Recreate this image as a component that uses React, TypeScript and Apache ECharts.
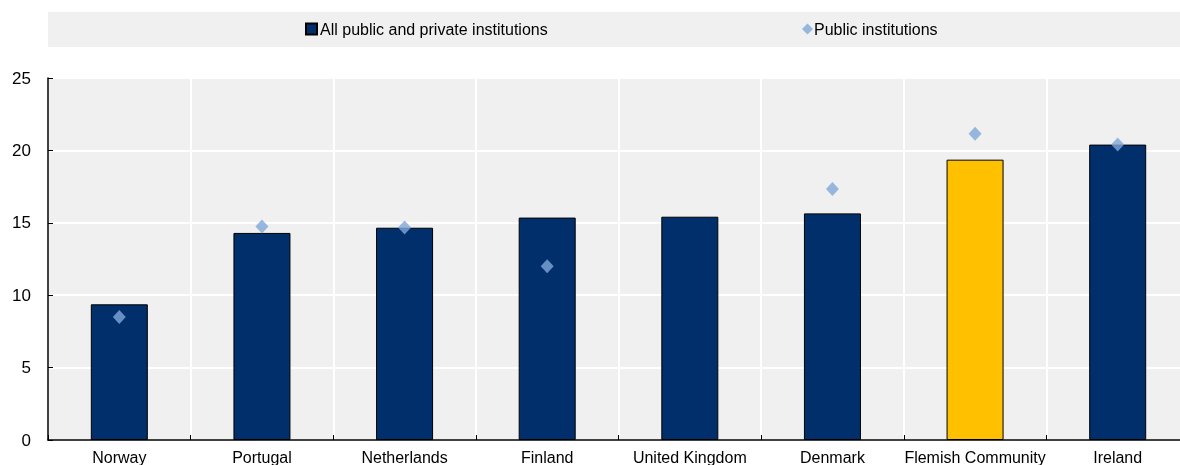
import React, { useEffect, useRef } from "react";
import * as echarts from "echarts";

const categories = [
  "Norway",
  "Portugal",
  "Netherlands",
  "Finland",
  "United Kingdom",
  "Denmark",
  "Flemish Community",
  "Ireland",
];
const allInstitutions = [9.37, 14.3, 14.66, 15.36, 15.42, 15.65, 19.36, 20.4];
const publicInstitutions: (number | null)[] = [8.5, 14.74, 14.68, 12.0, null, 17.33, 21.15, 20.4];
const highlightCategory = "Flemish Community";
const yTicks = { min: 0, max: 25, interval: 5 };

const FONT = "'Liberation Sans', Arial, sans-serif";
const NAVY = "#002F6C";
const GOLD = "#FFC000";
const LIGHT = "#7FA7D9";
const BG = "#F0F0F0";

export default function App() {
  const ref = useRef<HTMLDivElement>(null);
  useEffect(() => {
    if (!ref.current) return;
    const chart = echarts.init(ref.current, undefined, { renderer: "svg" });
    chart.setOption({
      animation: false,
      textStyle: { fontFamily: FONT, color: "#000" },
      graphic: [
        {
          type: "rect",
          left: 48,
          top: 12,
          shape: { width: 1150, height: 35 },
          style: { fill: BG },
          z: -10,
          silent: true,
        },
      ],
      legend: [
        {
          data: [{ name: "All public and private institutions", icon: "rect" }],
          left: 300,
          top: 16,
          itemWidth: 11,
          itemHeight: 11,
          textStyle: { fontFamily: FONT, fontSize: 16, color: "#000", padding: [0, 0, 0, -2] },
        },
        {
          data: [{ name: "Public institutions", icon: "diamond" }],
          left: 797,
          top: 16,
          itemWidth: 11,
          itemHeight: 11,
          textStyle: { fontFamily: FONT, fontSize: 16, color: "#000", padding: [0, 0, 0, -4] },
        },
      ],
      grid: {
        left: 48,
        top: 78,
        width: 1141,
        height: 362,
        show: true,
        backgroundColor: BG,
        borderWidth: 0,
        containLabel: false,
      },
      xAxis: {
        type: "category",
        data: categories,
        axisLine: { show: true, lineStyle: { color: "#000", width: 1.5 } },
        axisTick: { show: true, inside: true, length: 5, lineStyle: { color: "#000" } },
        splitLine: { show: true, lineStyle: { color: "#fff", width: 2 } },
        axisLabel: { fontFamily: FONT, fontSize: 16, color: "#000", margin: 9, interval: 0 },
      },
      yAxis: {
        type: "value",
        min: yTicks.min,
        max: yTicks.max,
        interval: yTicks.interval,
        axisLine: { show: true, lineStyle: { color: "#000", width: 1.5 } },
        axisTick: { show: true, inside: true, length: 5, lineStyle: { color: "#000" } },
        splitLine: { show: true, lineStyle: { color: "#fff", width: 2 } },
        axisLabel: { fontFamily: FONT, fontSize: 17, color: "#000", margin: 17 },
      },
      series: [
        {
          name: "All public and private institutions",
          type: "bar",
          barWidth: 57,
          data: categories.map((c, i) => ({
            value: allInstitutions[i],
            itemStyle: c === highlightCategory ? { color: GOLD } : undefined,
          })),
          itemStyle: { color: NAVY, borderColor: "#000", borderWidth: 1 },
        },
        {
          name: "Public institutions",
          type: "scatter",
          symbol: "diamond",
          symbolSize: [13, 14],
          data: publicInstitutions.map((v) => (v === null ? "-" : v)),
          itemStyle: { color: LIGHT },
          z: 5,
        },
      ],
    });
    return () => chart.dispose();
  }, []);
  return (
    <div
      ref={ref}
      style={{ position: "fixed", left: 0, top: 0, width: 1192, height: 465 }}
    />
  );
}
